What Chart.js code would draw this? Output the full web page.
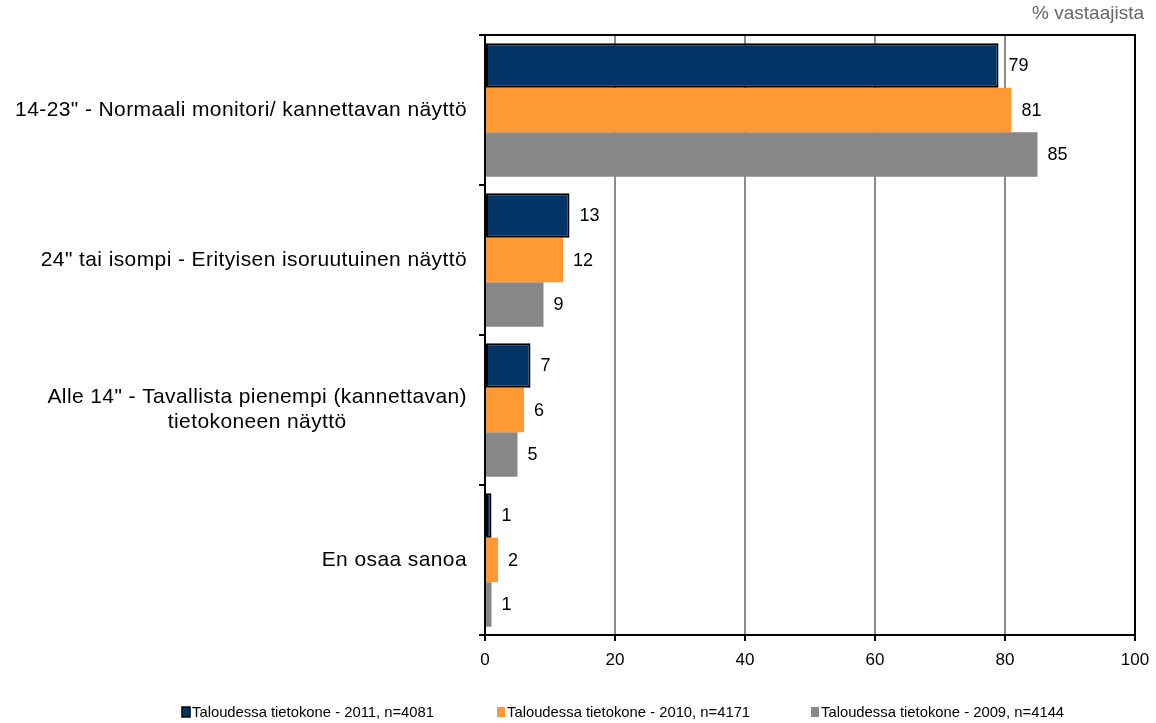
<!DOCTYPE html>
<html>
<head>
<meta charset="utf-8">
<script src="https://cdn.jsdelivr.net/npm/chart.js@4"></script>
<style>
  html, body { margin: 0; padding: 0; background: #fff; }
  #wrap { width: 1156px; height: 723px; position: relative; }
</style>
</head>
<body>
<div id="wrap"><canvas id="chart"></canvas></div>
<script>
// Näytön koko – vastaajien osuudet (%)
var categories = [
  '14-23" - Normaali monitori/ kannettavan näyttö',
  '24" tai isompi - Erityisen isoruutuinen näyttö',
  ['Alle 14" - Tavallista pienempi (kannettavan)', 'tietokoneen näyttö'],
  'En osaa sanoa'
];
var seriesLabels = [
  'Taloudessa tietokone - 2011, n=4081',
  'Taloudessa tietokone - 2010, n=4171',
  'Taloudessa tietokone - 2009, n=4144'
];
var values2011 = [79, 13, 7, 1];
var values2010 = [81, 12, 6, 2];
var values2009 = [85, 9, 5, 1];
var xTicks = [0, 20, 40, 60, 80, 100];
var unitText = '% vastaajista';

var FONT = "'Liberation Sans', Arial, sans-serif";
var colors = ['#003366', '#FF9933', '#878787'];

// Kehys, arvot, y-otsikot ja selite
var extras = {
  id: 'extras',
  afterDatasetsDraw: function (chart) {
    var ctx = chart.ctx;
    var a = chart.chartArea;
    ctx.save();

    // kehys piirtoalueen ympärille
    ctx.strokeStyle = '#000';
    ctx.lineWidth = 2;
    ctx.strokeRect(a.left, a.top, a.right - a.left, a.bottom - a.top);

    // arvot palkkien perään
    ctx.fillStyle = '#000';
    ctx.font = '18px ' + FONT;
    ctx.textAlign = 'left';
    ctx.textBaseline = 'middle';
    chart.data.datasets.forEach(function (ds, i) {
      chart.getDatasetMeta(i).data.forEach(function (bar, j) {
        ctx.fillText(String(ds.data[j]), bar.x + 10, bar.y + 1);
      });
    });

    // y-akselin otsikot
    var yScale = chart.scales.y;
    var rightEdge = 467;
    ctx.font = '21px ' + FONT;
    ctx.letterSpacing = '0.4px';
    categories.forEach(function (lab, i) {
      var cy = yScale.getPixelForValue(i);
      if (Array.isArray(lab)) {
        var widest = 0;
        lab.forEach(function (l) { widest = Math.max(widest, ctx.measureText(l).width); });
        var cx = rightEdge - widest / 2;
        ctx.textAlign = 'center';
        var lh = 25;
        lab.forEach(function (l, k) {
          ctx.fillText(l, cx, cy + (k - (lab.length - 1) / 2) * lh);
        });
      } else {
        ctx.textAlign = 'right';
        ctx.fillText(lab, rightEdge, cy);
      }
    });
    ctx.letterSpacing = '0px';

    // yksikkö oikeassa yläkulmassa
    ctx.fillStyle = '#666';
    ctx.font = '19px ' + FONT;
    ctx.textAlign = 'right';
    ctx.fillText(unitText, 1144, 14);

    // selite
    var legendX = [182, 497, 811];
    var ly = 712;
    ctx.font = '14.8px ' + FONT;
    ctx.textAlign = 'left';
    seriesLabels.forEach(function (lab, i) {
      ctx.fillStyle = colors[i];
      ctx.fillRect(legendX[i], ly - 5, 8, 10);
      if (i === 0) {
        ctx.strokeStyle = '#000';
        ctx.lineWidth = 1.5;
        ctx.strokeRect(legendX[i], ly - 5, 8, 10);
      }
      ctx.fillStyle = '#000';
      ctx.fillText(lab, legendX[i] + 10, ly + 1);
    });

    ctx.restore();
  }
};

new Chart(document.getElementById('chart'), {
  type: 'bar',
  data: {
    labels: categories,
    datasets: [
      { label: seriesLabels[0], data: values2011, backgroundColor: colors[0],
        borderColor: '#000', borderWidth: 2, borderSkipped: false },
      { label: seriesLabels[1], data: values2010, backgroundColor: colors[1], borderWidth: 0 },
      { label: seriesLabels[2], data: values2009, backgroundColor: colors[2], borderWidth: 0 }
    ]
  },
  options: {
    indexAxis: 'y',
    responsive: true,
    maintainAspectRatio: false,
    animation: false,
    datasets: { bar: { categoryPercentage: 0.89, barPercentage: 1.0 } },
    layout: { padding: { top: 35, right: 21, bottom: 48, left: 0 } },
    plugins: {
      legend: { display: false },
      tooltip: { enabled: false }
    },
    scales: {
      x: {
        min: 0,
        max: 100,
        afterBuildTicks: function (scale) {
          scale.ticks = xTicks.map(function (v) { return { value: v }; });
        },
        afterFit: function (scale) {
          scale.height = 40;
          scale.paddingLeft = 0;
          scale.paddingRight = 0;
        },
        border: { display: false },
        grid: {
          color: '#8c8c8c',
          lineWidth: 2,
          tickColor: '#000',
          tickLength: 6
        },
        ticks: {
          color: '#000',
          padding: 9,
          font: { family: FONT, size: 17 }
        }
      },
      y: {
        afterFit: function (scale) { scale.width = 485; },
        border: { display: false },
        grid: {
          offset: true,
          drawOnChartArea: false,
          color: '#000',
          lineWidth: 2,
          tickLength: 6
        },
        ticks: { display: false }
      }
    }
  },
  plugins: [extras]
});
</script>
</body>
</html>
